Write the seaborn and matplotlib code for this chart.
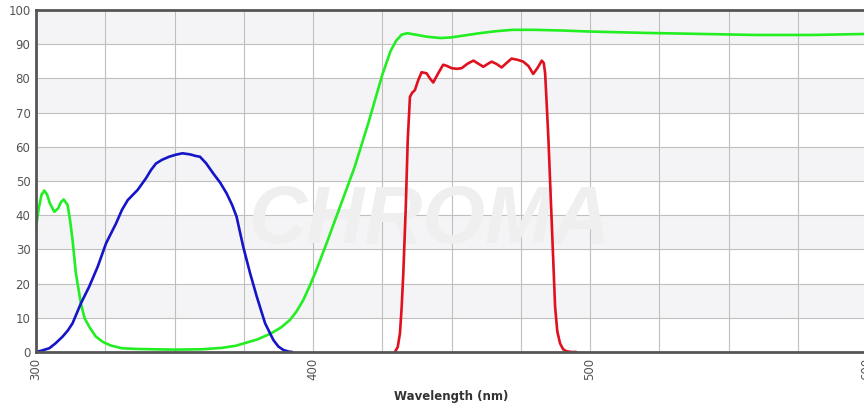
import matplotlib
matplotlib.use("Agg")
import matplotlib.pyplot as plt
import pandas as pd
import seaborn as sns

# spectra (wavelength in nm, transmission in %)
green_nm = [300, 301, 302, 303, 304, 305, 306.6, 308, 309, 310, 311.4, 312.3, 313.2,
            314.4, 316.2, 317.5, 319.2, 321.5, 324, 327, 331, 336, 342, 350, 360,
            367, 372, 375, 380, 385, 388.5, 391.7, 394, 396.5, 398.9, 401, 405,
            410, 415, 420, 425, 428, 430, 432, 434, 437, 441, 446, 450, 455, 460,
            466, 472, 480, 490, 500, 520, 540, 560, 580, 600]
green_val = [36.5, 42, 46, 47.2, 46, 43.5, 41, 42, 43.8, 44.6, 43, 38.5, 32.7,
             23, 14.2, 10, 7.4, 4.6, 3, 1.9, 1.1, 0.9, 0.8, 0.7, 0.8,
             1.2, 1.8, 2.5, 3.7, 5.5, 7.2, 9.4, 11.8, 15.2, 19.5, 23.5, 32,
             43, 54, 67, 81, 88, 91, 92.8, 93.2, 92.8, 92.2, 91.8, 92, 92.6, 93.2,
             93.8, 94.2, 94.2, 94, 93.7, 93.3, 93, 92.7, 92.7, 93]

blue_nm = [300, 302, 304.8, 307, 309.6, 311.5, 313.2, 316.2, 319.2, 322.3, 325.3,
           328.9, 331, 333.1, 336.7, 339.7, 341.5, 343.3, 345.5, 348.1, 350.5,
           352.9, 355.5, 357.8, 359.2, 361.4, 364, 366.5, 368.8, 370.8, 372.4,
           374.8, 377.3, 379.7, 382.7, 385.7, 387.5, 389.3, 391, 392.5]
blue_val = [0, 0.4, 1.1, 2.5, 4.5, 6.3, 8.4, 14.2, 19.1, 25, 31.8,
            37.6, 41.5, 44.4, 47.4, 50.8, 53.2, 55.1, 56.2, 57.1, 57.7,
            58.1, 57.8, 57.3, 57.1, 55.2, 52.2, 49.5, 46.4, 43, 39.6,
            30.8, 23, 16.2, 8.4, 3.5, 1.6, 0.6, 0.15, 0]

red_nm = [429.6, 430.6, 431.4, 432, 432.6, 433.5, 434.2, 435, 435.8, 436.8, 438,
          439.2, 441, 442.2, 443.4, 445.2, 447, 448.5, 450, 452, 453.7, 455.8,
          457.9, 459.7, 461.5, 463, 464.5, 466.3, 468.1, 470, 471.7, 474, 475.9,
          477.8, 479.5, 481, 482.6, 483.3, 483.8, 484.4, 485, 486.2, 487.4,
          488.2, 489.2, 490.3, 491.6, 493.5, 495]
red_val = [0, 1.5, 5.5, 13, 23, 42.5, 62, 74.6, 75.8, 76.6, 79.5,
           81.8, 81.5, 80, 78.8, 81.5, 84, 83.6, 83, 82.8, 83, 84.3,
           85.2, 84.3, 83.4, 84.2, 84.9, 84.2, 83.2, 84.6, 85.8, 85.4, 84.9,
           83.6, 81.3, 83, 85.2, 84.5, 81.5, 72, 62, 37.6, 13.2,
           6, 2.5, 0.8, 0.2, 0, 0]

grid_x = [300, 325, 350, 375, 400, 425, 450, 475, 500, 525, 550, 575, 600]
x_ticks = [300, 400, 500, 600]
y_ticks = [0, 10, 20, 30, 40, 50, 60, 70, 80, 90, 100]

df = pd.concat([
    pd.DataFrame({"Wavelength": green_nm, "T": green_val, "curve": "green"}),
    pd.DataFrame({"Wavelength": blue_nm, "T": blue_val, "curve": "blue"}),
    pd.DataFrame({"Wavelength": red_nm, "T": red_val, "curve": "red"}),
], ignore_index=True)

sns.set_style("white")
plt.rcParams["font.family"] = ["DejaVu Sans"]

fig = plt.figure(figsize=(8.64, 4.08), dpi=100)
ax = fig.add_axes([36 / 864, 1 - 352 / 408, 831 / 864, 342 / 408])

# alternating light bands
for lo in range(10, 100, 20):
    ax.axhspan(lo, lo + 10, color="#f4f4f6", zorder=0, lw=0)

# faint watermark
ax.text(442, 38, "CHROMA", fontsize=58, fontweight="bold", fontstyle="italic",
        family="Liberation Sans", color="#efefef", ha="center", va="center",
        zorder=1)

sns.lineplot(data=df, x="Wavelength", y="T", hue="curve", sort=False,
             estimator=None, legend=False, linewidth=1.9, ax=ax, zorder=3,
             palette={"green": "#22ee22", "blue": "#1414c8", "red": "#e0101e"})

ax.set_xlim(300, 600)
ax.set_ylim(0, 100)
ax.set_xticks(grid_x)
ax.set_xticklabels([str(t) if t in x_ticks else "" for t in grid_x],
                   rotation=90)
ax.set_yticks(y_ticks)
ax.set_yticklabels([str(t) for t in y_ticks])
ax.grid(True, color="#bfbfbf", linewidth=0.8, zorder=2)
ax.set_axisbelow(True)
ax.tick_params(length=0, pad=4, labelsize=8.5, colors="#555555")

for side in ["left", "bottom", "top"]:
    ax.spines[side].set_color("#555555")
    ax.spines[side].set_linewidth(2)
    ax.spines[side].set_zorder(5)
ax.spines["right"].set_visible(False)

ax.set_ylabel("")
ax.set_xlabel("Wavelength (nm)", fontsize=8.5, fontweight="bold",
              color="#333333", labelpad=7)

fig.savefig("out.png", dpi=100)
